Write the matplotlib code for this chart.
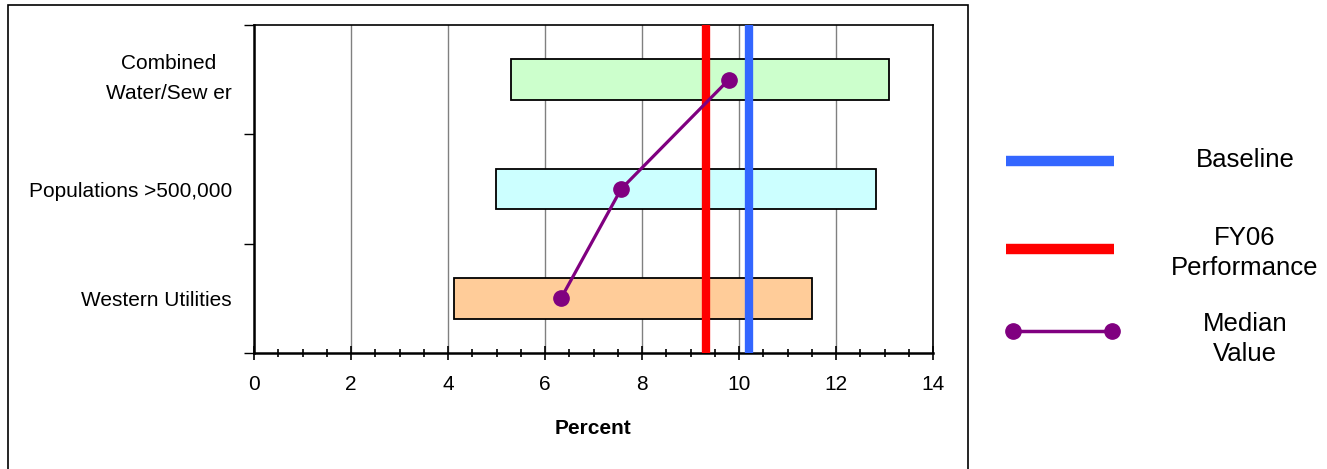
import matplotlib
matplotlib.use("Agg")
from matplotlib import pyplot as plt
from matplotlib.lines import Line2D
from matplotlib.patches import Rectangle
from matplotlib.transforms import ScaledTranslation

plt.rcParams['font.family'] = ['Liberation Sans', 'DejaVu Sans']

# data (bottom to top)
categories = ['Western Utilities', 'Populations >500,000', 'Combined\nWater/Sew er']
range_low = [4.12, 4.99, 5.30]
range_high = [11.50, 12.82, 13.09]
median_values = [6.33, 7.57, 9.79]
bar_colors = ['#FFCC99', '#CCFFFF', '#CCFFCC']
baseline = 10.2
fy06 = 9.32

W, H = 1327, 469
fig = plt.figure(figsize=(W / 100, H / 100), dpi=100)
ax = fig.add_axes([254 / W, 1 - 353 / H, (933 - 254) / W, (353 - 25) / H])

pos = list(range(len(categories)))
ax.barh(pos, [h - l for l, h in zip(range_low, range_high)], left=range_low,
        height=0.37, color=bar_colors, edgecolor='black', linewidth=1.3, zorder=3)
ax.axvline(fy06, color='#FF0000', linewidth=6, zorder=4)
ax.axvline(baseline, color='#3366FF', linewidth=6, zorder=4)
ax.plot(median_values, pos, color='#800080', linewidth=2.3, marker='o',
        markersize=11, zorder=5)

ax.set_xlim(0, 14)
ax.set_ylim(-0.5, len(categories) - 0.5)
ax.set_xticks(range(0, 15, 2))
ax.set_xticks([x * 0.5 for x in range(29)], minor=True)
ax.tick_params(axis='x', which='major', direction='inout', length=10, width=1.2,
               labelsize=15, pad=11)
ax.tick_params(axis='x', which='minor', direction='inout', length=6, width=1.2)
ax.grid(axis='x', which='major', color='#808080', linewidth=1, zorder=0)

ax.set_yticks([p - 0.5 for p in range(len(categories) + 1)])
ax.set_yticklabels([])
ax.tick_params(axis='y', which='major', direction='out', length=7, width=1)
ax.set_yticks(pos, minor=True)
ax.set_yticklabels(categories, minor=True)
ax.tick_params(axis='y', which='minor', length=0, pad=16, labelsize=15)
for lbl in ax.get_yticklabels(minor=True):
    lbl.set_multialignment('center')
    lbl.set_linespacing(1.75)
    if '\n' in lbl.get_text():
        # two-line label sits a little higher in the original
        lbl.set_transform(lbl.get_transform() + ScaledTranslation(0, 0.09, fig.dpi_scale_trans))

for side in ['left', 'bottom']:
    ax.spines[side].set_linewidth(1.8)
for side in ['top', 'right']:
    ax.spines[side].set_linewidth(1.2)

ax.set_xlabel('Percent', fontsize=15, fontweight='bold', labelpad=18)

# outer frame
fig.add_artist(Rectangle((8 / W, -0.05), (968 - 8) / W, 1.05 - 5 / H,
                         transform=fig.transFigure, fill=False,
                         edgecolor='black', linewidth=1.2))

# legend, drawn by hand
leg = [
    ('Baseline', 161, (1006, 1114), dict(color='#3366FF', linewidth=7.5, solid_capstyle='butt')),
    ('FY06\nPerformance', 249, (1006, 1114), dict(color='#FF0000', linewidth=7.5, solid_capstyle='butt')),
    ('Median\nValue', 331, (1013, 1112), dict(color='#800080', linewidth=2.5, marker='o', markersize=11)),
]
text_y = [160, 253, 339]
for (label, ly, (lx0, lx1), style), ty in zip(leg, text_y):
    fig.add_artist(Line2D([lx0 / W, lx1 / W], [1 - ly / H, 1 - ly / H],
                          transform=fig.transFigure, **style))
    fig.text(1245 / W, 1 - ty / H, label, ha='center', va='center',
             fontsize=18.5, multialignment='center', linespacing=1.3)

fig.savefig('out.png', dpi=100)
